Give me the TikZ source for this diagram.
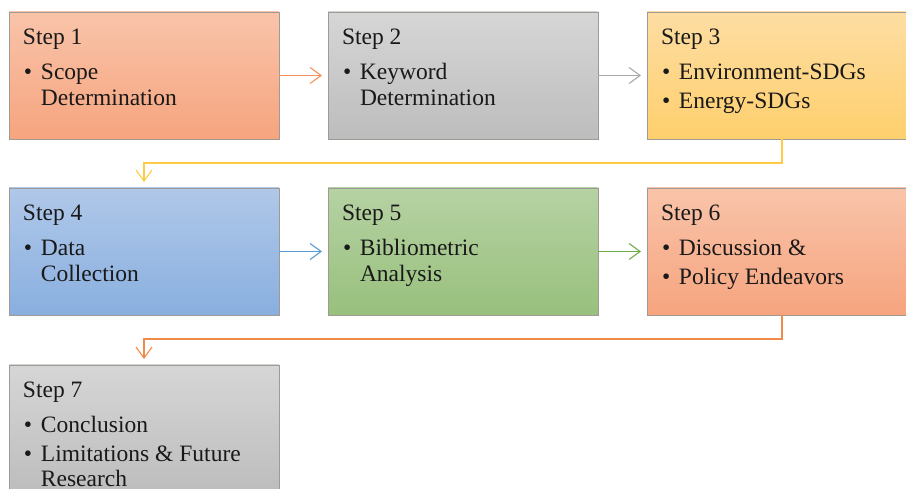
\documentclass[tikz,border=0pt]{standalone}
\usepackage{fontspec}
\setmainfont{Liberation Serif}
\usetikzlibrary{arrows.meta,calc}
\definecolor{orT}{HTML}{F9C4AA}\definecolor{orB}{HTML}{F6A47E}
\definecolor{grT}{HTML}{D6D6D6}\definecolor{grB}{HTML}{BDBDBD}
\definecolor{yeT}{HTML}{FDDDA2}\definecolor{yeB}{HTML}{FECF6D}
\definecolor{blT}{HTML}{B0C8E9}\definecolor{blB}{HTML}{89AFDF}
\definecolor{gnT}{HTML}{B6D2A3}\definecolor{gnB}{HTML}{98C07D}
\definecolor{cOr}{HTML}{F4925C}\definecolor{cGr}{HTML}{AAAAAA}
\definecolor{cYe}{HTML}{FFCB45}\definecolor{cBl}{HTML}{5B9BD5}
\definecolor{cGn}{HTML}{70AD47}\definecolor{cOr2}{HTML}{F08A48}
\definecolor{bord}{HTML}{A09A94}
\newcommand{\nl}{\hfill\break}
\newcommand{\bitem}[1]{\hangindent=18pt\hangafter=1\noindent\makebox[18pt][l]{\hspace{1pt}\textbullet}#1\par}
\newcommand{\steptext}[2]{\begin{minipage}[t]{250pt}\fontsize{23.5}{25.5}\selectfont #1\par\vspace{9.5pt}#2\end{minipage}}
\tikzset{
  stepbox/.style={draw=bord, line width=0.7pt, rectangle, minimum width=270pt, minimum height=127pt, inner sep=0pt, outer sep=0pt, anchor=north west},
  steplabel/.style={anchor=base west, inner sep=0pt, outer sep=0pt, text=black!90},
  conn/.style={line width=1.1pt, -{Straight Barb[length=11pt,width=16pt,line width=1.1pt]}}
}
\begin{document}
\begin{tikzpicture}[x=1pt,y=-1pt]
\useasboundingbox (0,0) rectangle (906,489);
\clip (0,0) rectangle (906,489);
\node[stepbox, top color=orT, bottom color=orB] (b1) at (9,12) {};
\node[stepbox, top color=grT, bottom color=grB] (b2) at (328,12) {};
\node[stepbox, top color=yeT, bottom color=yeB] (b3) at (647,12) {};
\node[stepbox, top color=blT, bottom color=blB] (b4) at (9,188) {};
\node[stepbox, top color=gnT, bottom color=gnB] (b5) at (328,188) {};
\node[stepbox, top color=orT, bottom color=orB] (b6) at (647,188) {};
\node[stepbox, top color=grT, bottom color=grB] (b7) at (9,365) {};

\node[steplabel] (t1) at ($(b1.north west)+(14,33)$) {\steptext{Step 1}{\bitem{Scope\nl Determination}}};
\node[steplabel] (t2) at ($(b2.north west)+(14,33)$) {\steptext{Step 2}{\bitem{Keyword\nl Determination}}};
\node[steplabel] (t3) at ($(b3.north west)+(14,33)$) {\steptext{Step 3}{\bitem{Environment-SDGs}\vspace{3pt}\bitem{Energy-SDGs}}};
\node[steplabel] (t4) at ($(b4.north west)+(14,33)$) {\steptext{Step 4}{\bitem{Data\nl Collection}}};
\node[steplabel] (t5) at ($(b5.north west)+(14,33)$) {\steptext{Step 5}{\bitem{Bibliometric\nl Analysis}}};
\node[steplabel] (t6) at ($(b6.north west)+(14,33)$) {\steptext{Step 6}{\bitem{Discussion \&}\vspace{3pt}\bitem{Policy Endeavors}}};
\node[steplabel] (t7) at ($(b7.north west)+(14,33)$) {\steptext{Step 7}{\bitem{Conclusion}\vspace{3pt}\bitem{Limitations \& Future\nl Research}}};

\draw[conn, cOr] (b1.east) -- ([xshift=-6pt]b2.west);
\draw[conn, cGr] (b2.east) -- ([xshift=-6pt]b3.west);
\draw[conn, cYe] (b3.south) -- ++(0,24) -| ([yshift=6pt]b4.north);
\draw[conn, cBl] (b4.east) -- ([xshift=-6pt]b5.west);
\draw[conn, cGn] (b5.east) -- ([xshift=-6pt]b6.west);
\draw[conn, cOr2] (b6.south) -- ++(0,24) -| ([yshift=6pt]b7.north);
\end{tikzpicture}
\end{document}
